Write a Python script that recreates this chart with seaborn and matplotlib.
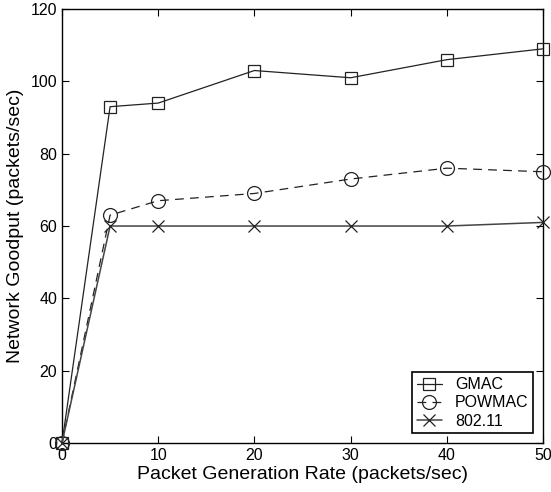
import numpy as np
import pandas as pd
import matplotlib
matplotlib.use("Agg")
import matplotlib.pyplot as plt
import seaborn as sns

sns.set_style("ticks")
plt.rcParams['font.family'] = ['Liberation Sans', 'DejaVu Sans']
plt.rcParams['text.color'] = 'black'
plt.rcParams['axes.labelcolor'] = 'black'
plt.rcParams['xtick.color'] = 'black'
plt.rcParams['ytick.color'] = 'black'

rate = [0, 5, 10, 20, 30, 40, 50]
gmac = [0, 93, 94, 103, 101, 106, 109]
powmac = [0, 63, 67, 69, 73, 76, 75]
dot11 = [0, 60, 60, 60, 60, 60, 61]

series_names = ["GMAC", "POWMAC", "802.11"]
x_ticks = [0, 10, 20, 30, 40, 50]
y_ticks = [0, 20, 40, 60, 80, 100, 120]

fig = plt.figure(figsize=(5.51, 4.92), dpi=100)
ax = fig.add_axes([0.1125, 0.0996, 0.873, 0.882])

styles = {
    "GMAC": dict(marker="s", dashes=None, ms=8, color="#222222", lw=0.9),
    "POWMAC": dict(marker="o", dashes=(7, 5), ms=10, color="#222222", lw=0.9),
    "802.11": dict(marker="x", dashes=None, ms=8, color="#444444", lw=1.1),
}

for name, vals in zip(series_names, [gmac, powmac, dot11]):
    df = pd.DataFrame({"rate": rate, "goodput": vals})
    st = styles[name]
    sns.lineplot(data=df, x="rate", y="goodput", ax=ax, label=name,
                 color=st["color"], lw=st["lw"],
                 marker=st["marker"], markersize=st["ms"],
                 markerfacecolor="none", markeredgecolor="#222222",
                 markeredgewidth=0.9, clip_on=False, zorder=3)
    if st["dashes"] is not None:
        ax.lines[-1].set_dashes(st["dashes"])

ax.set_xlim(0, 50)
ax.set_ylim(0, 120)
ax.set_xticks(x_ticks)
ax.set_yticks(y_ticks)
ax.tick_params(direction="in", top=True, right=True, labelsize=11.5, length=5, width=0.8)
for s in ax.spines.values():
    s.set_visible(True)
    s.set_linewidth(1.0)
    s.set_color("black")
    s.set_zorder(2)

ax.set_xlabel("Packet Generation Rate (packets/sec)", fontsize=14, labelpad=2)
ax.set_ylabel("Network Goodput (packets/sec)", fontsize=14, labelpad=5)

leg = ax.legend(loc="lower right", fontsize=11.5, frameon=True, fancybox=False,
                edgecolor="black", handlelength=1.6, borderaxespad=0.6,
                labelspacing=0.2, borderpad=0.3, framealpha=1)
leg.get_frame().set_linewidth(1.2)
leg.set_zorder(5)

fig.savefig("out.png", dpi=100)
